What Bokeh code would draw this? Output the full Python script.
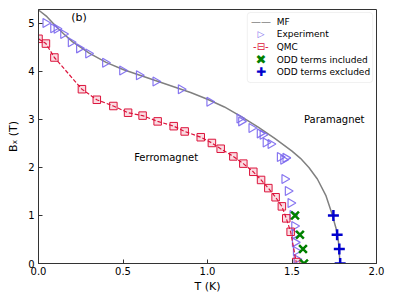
import numpy as np
from bokeh.plotting import figure
from bokeh.models import Range1d, Label, FixedTicker, BoxAnnotation
from bokeh.embed import file_html
from bokeh.resources import INLINE

# MF line
mf_T = [0.0, 0.05, 0.1, 0.15, 0.2, 0.3, 0.4, 0.5, 0.6, 0.7, 0.8, 0.9, 1.0, 1.1, 1.2,
        1.3, 1.4, 1.5, 1.55, 1.6, 1.65, 1.7, 1.735, 1.76, 1.775, 1.784]
mf_B = [5.28, 5.14, 4.95, 4.78, 4.62, 4.38, 4.19, 4.04, 3.92, 3.80, 3.68, 3.56, 3.42,
        3.26, 3.06, 2.84, 2.60, 2.34, 2.19, 2.0, 1.76, 1.42, 1.05, 0.74, 0.45, 0.0]

# Experiment
exp_T = [0.042, 0.088, 0.108, 0.147, 0.192, 0.241, 0.295, 0.395, 0.496, 0.595, 0.693,
         0.843, 1.012, 1.19, 1.20, 1.261, 1.31, 1.327, 1.345, 1.374, 1.429, 1.449, 1.462,
         1.456, 1.476, 1.492, 1.504, 1.514, 1.518, 1.518, 1.524, 1.528]
exp_B = [5.01, 4.90, 4.89, 4.78, 4.61, 4.48, 4.375, 4.18, 4.02, 3.92, 3.79,
         3.63, 3.37, 3.02, 2.96, 2.82, 2.71, 2.68, 2.52, 2.49, 2.22, 2.16, 2.20,
         1.76, 1.51, 1.26, 1.01, 0.78, 0.61, 0.44, 0.26, 0.09]

# QMC
qmc_T = [0.0, 0.044, 0.094, 0.257, 0.345, 0.443, 0.53, 0.616, 0.705, 0.80, 0.865, 0.96,
         1.026, 1.078, 1.153, 1.212, 1.271, 1.317, 1.36, 1.403, 1.44, 1.466, 1.492, 1.525]
qmc_B = [4.68, 4.58, 4.29, 3.63, 3.41, 3.28, 3.14, 3.08, 2.96, 2.86, 2.75, 2.63,
         2.51, 2.39, 2.23, 2.08, 1.91, 1.74, 1.57, 1.38, 1.19, 0.94, 0.66, 0.03]

# ODD terms
inc_T = [1.518, 1.547, 1.565, 1.571]
inc_B = [1.0, 0.6, 0.3, 0.0]
exc_T = [1.745, 1.767, 1.78, 1.785]
exc_B = [1.0, 0.6, 0.3, 0.0]

x_ticks = [0.0, 0.5, 1.0, 1.5, 2.0]
y_ticks = [0, 1, 2, 3, 4, 5]

legend_labels = ["MF", "Experiment", "QMC", "ODD terms included", "ODD terms excluded"]
legend_symbols = ["——", "▷", "-⊟-", "✖", "✚"]

C_MF = "#808080"
C_EXP = "#7b68ee"
C_QMC = "#dc143c"
C_INC = "green"
C_EXC = "mediumblue"
legend_colors = [C_MF, C_EXP, C_QMC, C_INC, C_EXC]
legend_sym_sizes = ["10px", "9px", "10px", "13px", "12px"]

p = figure(width=386, height=296, output_backend="svg", toolbar_location=None,
           x_range=Range1d(0, 2.0), y_range=Range1d(0, 5.29),
           min_border_left=38, min_border_right=10, min_border_top=9, min_border_bottom=33)
p.grid.visible = False
p.outline_line_color = "#333333"
p.outline_line_width = 1
p.background_fill_color = "white"
p.border_fill_color = "white"

for ax in (p.xaxis[0], p.yaxis[0]):
    ax.major_tick_in = 4
    ax.major_tick_out = 0
    ax.minor_tick_in = 0
    ax.minor_tick_out = 0
    ax.axis_line_color = "#333333"
    ax.major_tick_line_color = "#333333"
    ax.major_label_text_font = "DejaVu Sans"
    ax.major_label_text_font_size = "10px"
    ax.major_label_text_color = "black"
    ax.axis_label_text_font = "DejaVu Sans"
    ax.axis_label_text_font_size = "11px"
    ax.axis_label_text_font_style = "normal"
    ax.axis_label_text_color = "black"

p.xaxis[0].ticker = FixedTicker(ticks=x_ticks)
p.yaxis[0].ticker = FixedTicker(ticks=y_ticks)
p.xaxis[0].major_label_overrides = {t: f"{t:.1f}" for t in x_ticks}
p.yaxis[0].major_label_overrides = {t: str(t) for t in y_ticks}
p.xaxis[0].axis_label = "T (K)"
p.yaxis[0].axis_label = "Bₓ (T)"
p.xaxis[0].major_label_standoff = 3
p.yaxis[0].major_label_standoff = 4
p.xaxis[0].axis_label_standoff = 2
p.yaxis[0].axis_label_standoff = 5

p.line(mf_T, mf_B, line_color=C_MF, line_width=1.5)
p.scatter(exp_T, exp_B, marker="triangle", angle=-np.pi / 2, size=9,
          line_color=C_EXP, fill_color=None, line_width=1.2, line_alpha=0.9)
p.line(qmc_T, qmc_B, line_color=C_QMC, line_dash="4 2", line_width=1.2)
p.scatter(qmc_T, qmc_B, marker="square", size=7.5, line_color=C_QMC,
          fill_color=C_QMC, fill_alpha=0.15, line_width=1.0)
p.scatter(inc_T, inc_B, marker="x", size=11, line_color=C_INC, line_width=2.5)
p.scatter(exc_T, exc_B, marker="cross", size=11, line_color=C_EXC, line_width=2.5)

# legend (drawn as annotations)
p.add_layout(BoxAnnotation(left=1.2355, right=1.9775, top=5.227, bottom=3.769,
                           fill_color="white", fill_alpha=0.8, line_color="#cccccc",
                           line_width=1, border_radius=3))
row_y = [5.033, 4.775, 4.513, 4.248, 3.992]
for lab, sym, col, fs, yy in zip(legend_labels, legend_symbols, legend_colors, legend_sym_sizes, row_y):
    p.add_layout(Label(x=1.316, y=yy, text=sym, text_color=col, text_font="DejaVu Sans",
                       text_font_size=fs, text_align="center", text_baseline="middle"))
    p.add_layout(Label(x=1.4095, y=yy, text=lab, text_color="black", text_font="DejaVu Sans",
                       text_font_size="9px", text_align="left", text_baseline="middle"))

p.add_layout(Label(x=0.24, y=5.12, text="(b)", text_color="black", text_font="DejaVu Sans",
                   text_font_size="11px", text_align="center", text_baseline="middle"))
p.add_layout(Label(x=1.75, y=2.99, text="Paramagnet", text_color="black", text_font="DejaVu Sans",
                   text_font_size="10px", text_align="center", text_baseline="middle"))
p.add_layout(Label(x=0.755, y=2.2, text="Ferromagnet", text_color="black", text_font="DejaVu Sans",
                   text_font_size="10px", text_align="center", text_baseline="middle"))

open("out.html", "w").write(file_html(p, INLINE))
